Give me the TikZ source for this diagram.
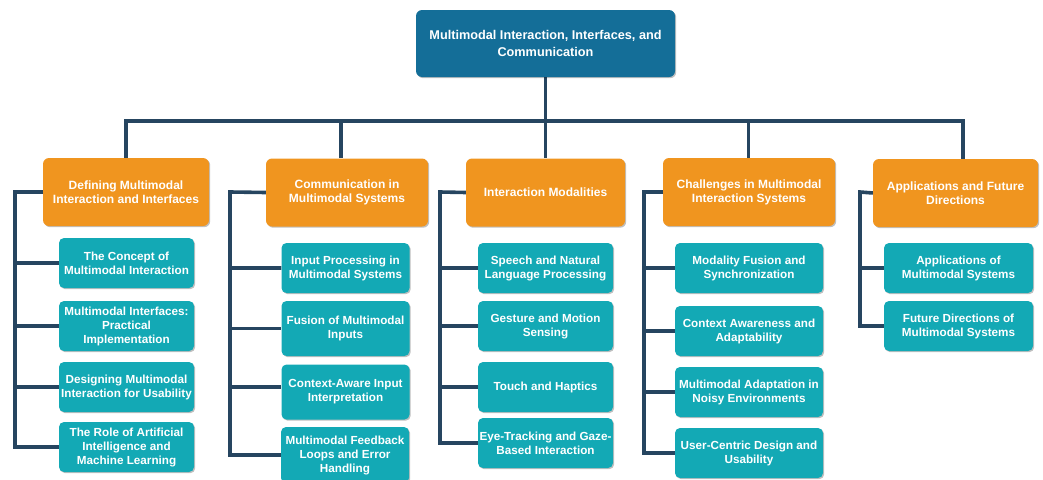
\documentclass[tikz,border=0pt]{standalone}
\usepackage{fontspec}
\setmainfont{Liberation Sans}
\usetikzlibrary{backgrounds,shadows}

\definecolor{rootblue}{HTML}{146E98}
\definecolor{catorange}{HTML}{F0951F}
\definecolor{topicteal}{HTML}{13A9B5}
\definecolor{linkblue}{HTML}{264560}

\begin{document}
\begin{tikzpicture}[x=1pt, y=-1pt,
  box/.style={rounded corners=6pt, inner sep=0pt, align=center, text=white,
    font=\bfseries, drop shadow={shadow xshift=1.2pt, shadow yshift=-1.2pt, opacity=0.25, fill=black}},
  rootbox/.style={box, fill=rootblue, minimum width=259pt, minimum height=67pt,
    font=\fontsize{12.7}{16.5}\selectfont\bfseries},
  catbox/.style={box, fill=catorange, minimum height=68pt,
    font=\fontsize{12}{14.2}\selectfont\bfseries},
  topicbox/.style={box, fill=topicteal, rounded corners=5pt, minimum height=50pt,
    font=\fontsize{11.7}{14}\selectfont\bfseries},
  link/.style={draw=linkblue, line width=3.6pt, line join=miter}]
\useasboundingbox (0,0) rectangle (1043,479);

% root
\node[rootbox] (root) at (545.5,43.5) {Multimodal Interaction, Interfaces, and\\Communication};

% categories
\node[catbox, minimum width=166pt] (c1) at (126,192) {Defining Multimodal\\Interaction and Interfaces};
\node[catbox, minimum width=162pt] (c2) at (347,192.5) {Communication in\\Multimodal Systems};
\node[catbox, minimum width=159pt] (c3) at (545.5,192.5) {Interaction Modalities};
\node[catbox, minimum width=172pt] (c4) at (749,192) {Challenges in Multimodal\\Interaction Systems};
\node[catbox, minimum width=165pt] (c5) at (955.5,193) {Applications and Future\\Directions};

% topics, column 1
\node[topicbox, minimum width=135pt] (t11) at (126.5,263) {The Concept of\\Multimodal Interaction};
\node[topicbox, minimum width=135pt] (t12) at (126.5,326) {Multimodal Interfaces:\\Practical\\Implementation};
\node[topicbox, minimum width=135pt] (t13) at (126.5,387) {Designing Multimodal\\Interaction for Usability};
\node[topicbox, minimum width=135pt] (t14) at (126.5,447) {The Role of Artificial\\Intelligence and\\Machine Learning};

% topics, column 2
\node[topicbox, minimum width=128pt] (t21) at (345.5,268) {Input Processing in\\Multimodal Systems};
\node[topicbox, minimum width=128pt, minimum height=55pt] (t22) at (345.5,328.5) {Fusion of Multimodal\\Inputs};
\node[topicbox, minimum width=128pt, minimum height=55pt] (t23) at (345.5,392) {Context-Aware Input\\Interpretation};
\node[topicbox, minimum width=128pt, minimum height=56pt] (t24) at (345,455) {Multimodal Feedback\\Loops and Error\\Handling};

% topics, column 3
\node[topicbox, minimum width=135pt] (t31) at (545.5,268) {Speech and Natural\\Language Processing};
\node[topicbox, minimum width=135pt] (t32) at (545.5,326) {Gesture and Motion\\Sensing};
\node[topicbox, minimum width=135pt] (t33) at (545.5,387) {Touch and Haptics};
\node[topicbox, minimum width=135pt] (t34) at (545.5,443) {Eye-Tracking and Gaze-\\Based Interaction};

% topics, column 4
\node[topicbox, minimum width=148pt] (t41) at (749,268) {Modality Fusion and\\Synchronization};
\node[topicbox, minimum width=148pt] (t42) at (749,331) {Context Awareness and\\Adaptability};
\node[topicbox, minimum width=148pt] (t43) at (749,392) {Multimodal Adaptation in\\Noisy Environments};
\node[topicbox, minimum width=148pt] (t44) at (749,453) {User-Centric Design and\\Usability};

% topics, column 5
\node[topicbox, minimum width=149pt] (t51) at (958.5,268) {Applications of\\Multimodal Systems};
\node[topicbox, minimum width=149pt] (t52) at (958.5,326) {Future Directions of\\Multimodal Systems};

% connectors
\coordinate (hub) at (545.5,121);
\coordinate (s1) at (15,192);
\coordinate (s2) at (230,192);
\coordinate (s3) at (440,192);
\coordinate (s4) at (644,192);
\coordinate (s5) at (860,192);
\begin{scope}[on background layer]
\draw[link] (root.south) -- (hub);
\draw[link] (hub) -| ([xshift=-0.3pt]c1.north);
\draw[link] (hub) -| ([xshift=-6pt]c2.north);
\draw[link] (hub) -- (c3.north);
\draw[link] (hub) -| ([xshift=-0.7pt]c4.north);
\draw[link] (hub) -| ([xshift=7.5pt]c5.north);

\draw[link] (c1.west) -- (s1) |- (t11.west);
\draw[link] (s1) |- (t12.west);
\draw[link] (s1) |- (t13.west);
\draw[link] (s1) |- (t14.west);

\draw[link] (c2.west) -- (s2) |- (t21.west);
\draw[link] (s2) |- (t22.west);
\draw[link] (s2) |- ([yshift=5pt]t23.west);
\draw[link] (s2) |- (t24.west);

\draw[link] (c3.west) -- (s3) |- (t31.west);
\draw[link] (s3) |- (t32.west);
\draw[link] (s3) |- (t33.west);
\draw[link] (s3) |- (t34.west);

\draw[link] (c4.west) -- (s4) |- (t41.west);
\draw[link] (s4) |- (t42.west);
\draw[link] (s4) |- (t43.west);
\draw[link] (s4) |- (t44.west);

\draw[link] (c5.west) -- (s5) |- (t51.west);
\draw[link] (s5) |- (t52.west);
\end{scope}
\end{tikzpicture}
\end{document}
